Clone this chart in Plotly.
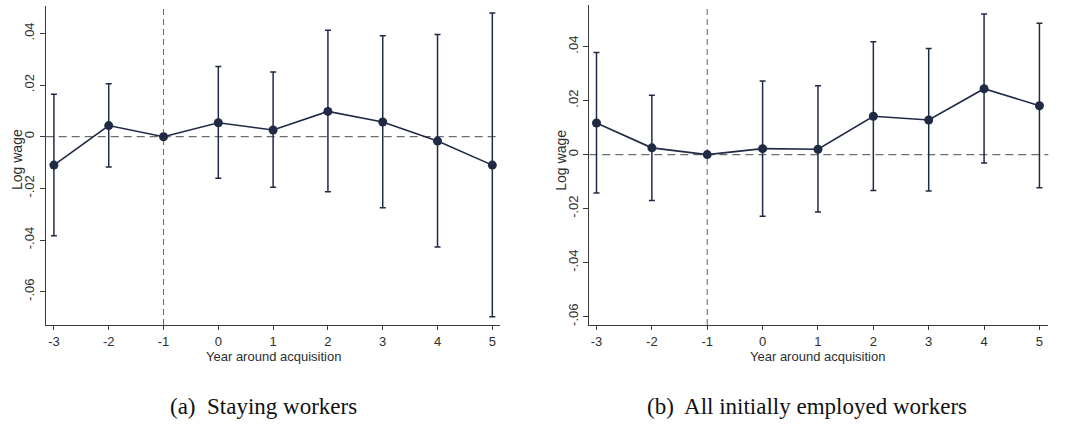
import plotly.graph_objects as go

# Event-time estimates around acquisition
years = [-3, -2, -1, 0, 1, 2, 3, 4, 5]

# (a) Staying workers
stay_coef = [-0.0110, 0.0043, 0.0, 0.0054, 0.0026, 0.0098, 0.0057, -0.0017, -0.0110]
stay_hi = [0.0164, 0.0205, 0.0, 0.0272, 0.0250, 0.0412, 0.0391, 0.0396, 0.0479]
stay_lo = [-0.0383, -0.0117, 0.0, -0.0161, -0.0196, -0.0213, -0.0275, -0.0427, -0.0697]

# (b) All initially employed workers
all_coef = [0.0117, 0.0025, 0.0, 0.0022, 0.0020, 0.0142, 0.0128, 0.0244, 0.0181]
all_hi = [0.0378, 0.0220, 0.0, 0.0273, 0.0255, 0.0418, 0.0393, 0.0521, 0.0486]
all_lo = [-0.0142, -0.0170, 0.0, -0.0228, -0.0213, -0.0133, -0.0135, -0.0031, -0.0123]

ytick_vals = [-0.06, -0.04, -0.02, 0, 0.02, 0.04]
ytick_text = ["-.06", "-.04", "-.02", "0", ".02", ".04"]
xtick_vals = years
xtick_text = [str(v) for v in years]

W, H = 1068, 425
NAVY = "#1f2a44"
GREY = "#6e6e6e"
AXIS = "#3a3a3a"
TICKFONT = dict(family="Liberation Sans, Arial, sans-serif", size=13, color="#2e2e2e")


def px_x(p):
    return p / W


def px_y(p):
    return 1 - p / H


fig = go.Figure()

panels = [
    dict(coef=stay_coef, hi=stay_hi, lo=stay_lo, xa="x", ya="y"),
    dict(coef=all_coef, hi=all_hi, lo=all_lo, xa="x2", ya="y2"),
]

for p in panels:
    plus = [h - c for h, c in zip(p["hi"], p["coef"])]
    minus = [c - l for c, l in zip(p["coef"], p["lo"])]
    fig.add_trace(go.Scatter(
        x=years, y=p["coef"], mode="lines+markers",
        line=dict(color=NAVY, width=1.6),
        marker=dict(color=NAVY, size=9),
        error_y=dict(type="data", symmetric=False, array=plus, arrayminus=minus,
                     color=NAVY, thickness=1.5, width=3),
        xaxis=p["xa"], yaxis=p["ya"], showlegend=False,
    ))

common_x = dict(
    tickmode="array", tickvals=xtick_vals, ticktext=xtick_text,
    showgrid=False, zeroline=False, showline=True, linecolor=AXIS, linewidth=1.2,
    ticks="outside", ticklen=4, tickwidth=1, tickcolor=AXIS, tickfont=TICKFONT,
    ticklabelstandoff=0, automargin=False,
)
common_y = dict(
    tickmode="array", tickvals=ytick_vals, ticktext=ytick_text, tickangle=-90,
    showgrid=False, zeroline=False, showline=True, linecolor=AXIS, linewidth=1.2,
    ticks="outside", ticklen=5, tickwidth=1, tickcolor=AXIS, tickfont=TICKFONT,
    automargin=False,
)

fig.update_layout(
    width=W, height=H,
    margin=dict(l=0, r=0, t=0, b=0),
    paper_bgcolor="white", plot_bgcolor="white",
    xaxis=dict(common_x, domain=[px_x(45.7), px_x(500)], range=[-3.15, 5.14], anchor="y"),
    yaxis=dict(common_y, domain=[px_y(325), px_y(6)], range=[-0.0729, 0.0506], anchor="x"),
    xaxis2=dict(common_x, domain=[px_x(589.3), px_x(1048.3)], range=[-3.13, 5.16], anchor="y2"),
    yaxis2=dict(common_y, domain=[px_y(325), px_y(5)], range=[-0.0631, 0.0554], anchor="x2"),
)

# Reference lines: zero effect and the pre-acquisition base year
for xa, ya in [("x", "y"), ("x2", "y2")]:
    fig.add_shape(type="line", xref=f"{xa} domain", yref=ya, x0=0, x1=1, y0=0, y1=0,
                  line=dict(color=GREY, width=1.3, dash="8px,5px"), layer="below")
    fig.add_shape(type="line", xref=xa, yref=f"{ya} domain", x0=-1, x1=-1, y0=0, y1=1,
                  line=dict(color=GREY, width=1.1, dash="6px,4px"), layer="below")

TITLEFONT = dict(family="Liberation Sans, Arial, sans-serif", size=13, color="#2e2e2e")
YTITLEFONT = dict(family="Liberation Sans, Arial, sans-serif", size=14, color="#2e2e2e")
CAPFONT = dict(family="Liberation Serif, Times New Roman, serif", size=23, color="#111111")

annotations = [
    dict(text="Log wage", x=px_x(17), y=px_y(160), textangle=-90, font=YTITLEFONT),
    dict(text="Log wage", x=px_x(560.7), y=px_y(160), textangle=-90, font=YTITLEFONT),
    dict(text="Year around acquisition", x=px_x(273), y=px_y(356.5), font=TITLEFONT),
    dict(text="Year around acquisition", x=px_x(817), y=px_y(356.5), font=TITLEFONT),
    dict(text="(a)  Staying workers", x=px_x(263), y=px_y(406), font=CAPFONT),
    dict(text="(b)  All initially employed workers", x=px_x(807), y=px_y(406), font=CAPFONT),
]
for a in annotations:
    fig.add_annotation(xref="paper", yref="paper", showarrow=False,
                       xanchor="center", yanchor="middle", **a)

fig.write_html("out.html")
